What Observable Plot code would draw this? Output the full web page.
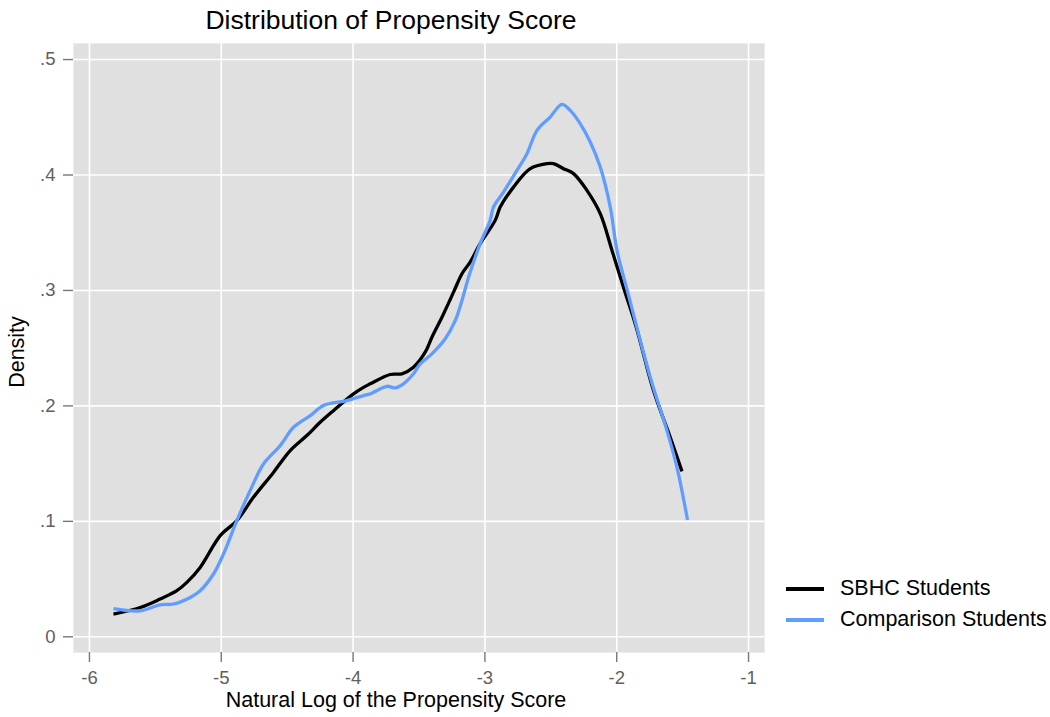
<!DOCTYPE html>
<html>
<head>
<meta charset="utf-8">
<script src="https://cdn.jsdelivr.net/npm/d3@7"></script>
<script src="https://cdn.jsdelivr.net/npm/@observablehq/plot@0.6"></script>
<style>
  html, body { margin: 0; padding: 0; background: #fff; }
  #wrap { position: relative; width: 1050px; height: 717px; font-family: "Liberation Sans", Arial, sans-serif; color: #000; }
  #wrap svg { position: absolute; left: 0; top: 0; }
  .lbl { position: absolute; white-space: nowrap; line-height: 1; }
</style>
</head>
<body>
<div id="wrap"></div>
<script>
// ---- Data ----
const seriesNames = ["SBHC Students", "Comparison Students"];
const seriesColors = ["#000000", "#619CFF"];

const sbhcX = [-5.818,-5.615,-5.464,-5.337,-5.261,-5.160,-5.008,-4.882,-4.756,-4.604,-4.477,-4.351,-4.250,-4.149,-3.997,-3.921,-3.870,-3.719,-3.630,-3.542,-3.453,-3.402,-3.326,-3.238,-3.174,-3.112,-3.036,-2.922,-2.884,-2.783,-2.656,-2.530,-2.480,-2.404,-2.328,-2.226,-2.125,-2.036,-1.941,-1.852,-1.721,-1.594,-1.505];
const sbhcY = [0.0197,0.0254,0.0327,0.0399,0.0471,0.0601,0.0876,0.1006,0.1208,0.1424,0.1613,0.1743,0.1858,0.1959,0.2104,0.2161,0.2191,0.2272,0.2278,0.2335,0.2465,0.2595,0.2768,0.2985,0.3145,0.3245,0.3405,0.3607,0.3722,0.3895,0.4055,0.4098,0.4098,0.4055,0.4012,0.3867,0.3665,0.3347,0.3000,0.2682,0.2133,0.1728,0.1433];

const compX = [-5.818,-5.615,-5.464,-5.363,-5.236,-5.160,-5.059,-4.983,-4.882,-4.781,-4.680,-4.553,-4.452,-4.325,-4.225,-4.047,-3.921,-3.870,-3.744,-3.681,-3.618,-3.542,-3.491,-3.402,-3.301,-3.225,-3.174,-3.124,-3.036,-2.960,-2.935,-2.859,-2.757,-2.681,-2.605,-2.505,-2.416,-2.353,-2.277,-2.201,-2.125,-2.049,-1.998,-1.920,-1.746,-1.619,-1.543,-1.463];
const compY = [0.0245,0.0225,0.0277,0.0284,0.0341,0.0399,0.0544,0.0717,0.1006,0.1266,0.1497,0.1656,0.1815,0.1916,0.2003,0.2046,0.2089,0.2104,0.2170,0.2156,0.2191,0.2278,0.2364,0.2451,0.2581,0.2740,0.2913,0.3115,0.3405,0.3607,0.3722,0.3852,0.4040,0.4185,0.4387,0.4502,0.4612,0.4560,0.4445,0.4286,0.4069,0.3722,0.3347,0.3000,0.2248,0.1786,0.1468,0.1012];

const xTicks = [-6, -5, -4, -3, -2, -1];
const yTicks = [0, 0.1, 0.2, 0.3, 0.4, 0.5];
const titleText = "Distribution of Propensity Score";
const xTitle = "Natural Log of the Propensity Score";
const yTitle = "Density";

// ---- Build table ----
const rows = [
  ...sbhcX.map((x, i) => ({series: seriesNames[0], x, y: sbhcY[i]})),
  ...compX.map((x, i) => ({series: seriesNames[1], x, y: compY[i]}))
];

const yFmt = d => d === 0 ? "0" : d.toFixed(1).replace(/^0/, "");

const chart = Plot.plot({
  width: 1050,
  height: 717,
  marginLeft: 73,
  marginRight: 286,
  marginTop: 43,
  marginBottom: 65,
  style: {fontFamily: "'Liberation Sans', Arial, sans-serif", background: "transparent", overflow: "visible"},
  x: {domain: [-6.121, -0.879]},
  y: {domain: [-0.0136, 0.5139]},
  color: {domain: seriesNames, range: seriesColors},
  marks: [
    Plot.frame({fill: "#e0e0e0", stroke: "#ededed", strokeWidth: 1}),
    Plot.gridX(xTicks, {stroke: "#ffffff", strokeOpacity: 1, strokeWidth: 1.6}),
    Plot.gridY(yTicks, {stroke: "#ffffff", strokeOpacity: 1, strokeWidth: 1.6}),
    Plot.axisX(xTicks, {tickSize: 10, tickPadding: 8, tickFormat: d => String(d), label: null, fontSize: 18.5, stroke: "#777", strokeWidth: 1.4, fill: "#606060"}),
    Plot.axisY(yTicks, {tickSize: 10, tickPadding: 8, tickFormat: yFmt, label: null, fontSize: 18.5, stroke: "#777", strokeWidth: 1.4, fill: "#606060"}),
    Plot.line(rows, {x: "x", y: "y", z: "series", stroke: "series", strokeWidth: 3.3, curve: "catmull-rom", strokeLinejoin: "round", strokeLinecap: "butt"})
  ]
});

const wrap = document.getElementById("wrap");
wrap.appendChild(chart);

function addLabel(text, css) {
  const d = document.createElement("div");
  d.className = "lbl";
  d.textContent = text;
  Object.assign(d.style, css);
  wrap.appendChild(d);
  return d;
}

// Title
addLabel(titleText, {left: "391px", top: "7px", fontSize: "26.5px", transform: "translateX(-50%)"});
// X axis title
addLabel(xTitle, {left: "396px", top: "692px", fontSize: "21.5px", lineHeight: "0.8", transform: "translateX(-50%)"});
// Y axis title (rotated)
addLabel(yTitle, {left: "18px", top: "352px", fontSize: "21.5px", transform: "translate(-50%, -50%) rotate(-90deg)"});

// Legend
const legendTop = [589, 620];
seriesNames.forEach((name, i) => {
  const ln = document.createElement("div");
  Object.assign(ln.style, {position: "absolute", left: "786px", top: (legendTop[i] - 1.6) + "px", width: "38px", height: "3.3px", background: seriesColors[i]});
  wrap.appendChild(ln);
  addLabel(name, {left: "840px", top: (legendTop[i] - 10.75) + "px", fontSize: "21.5px"});
});
</script>
</body>
</html>
